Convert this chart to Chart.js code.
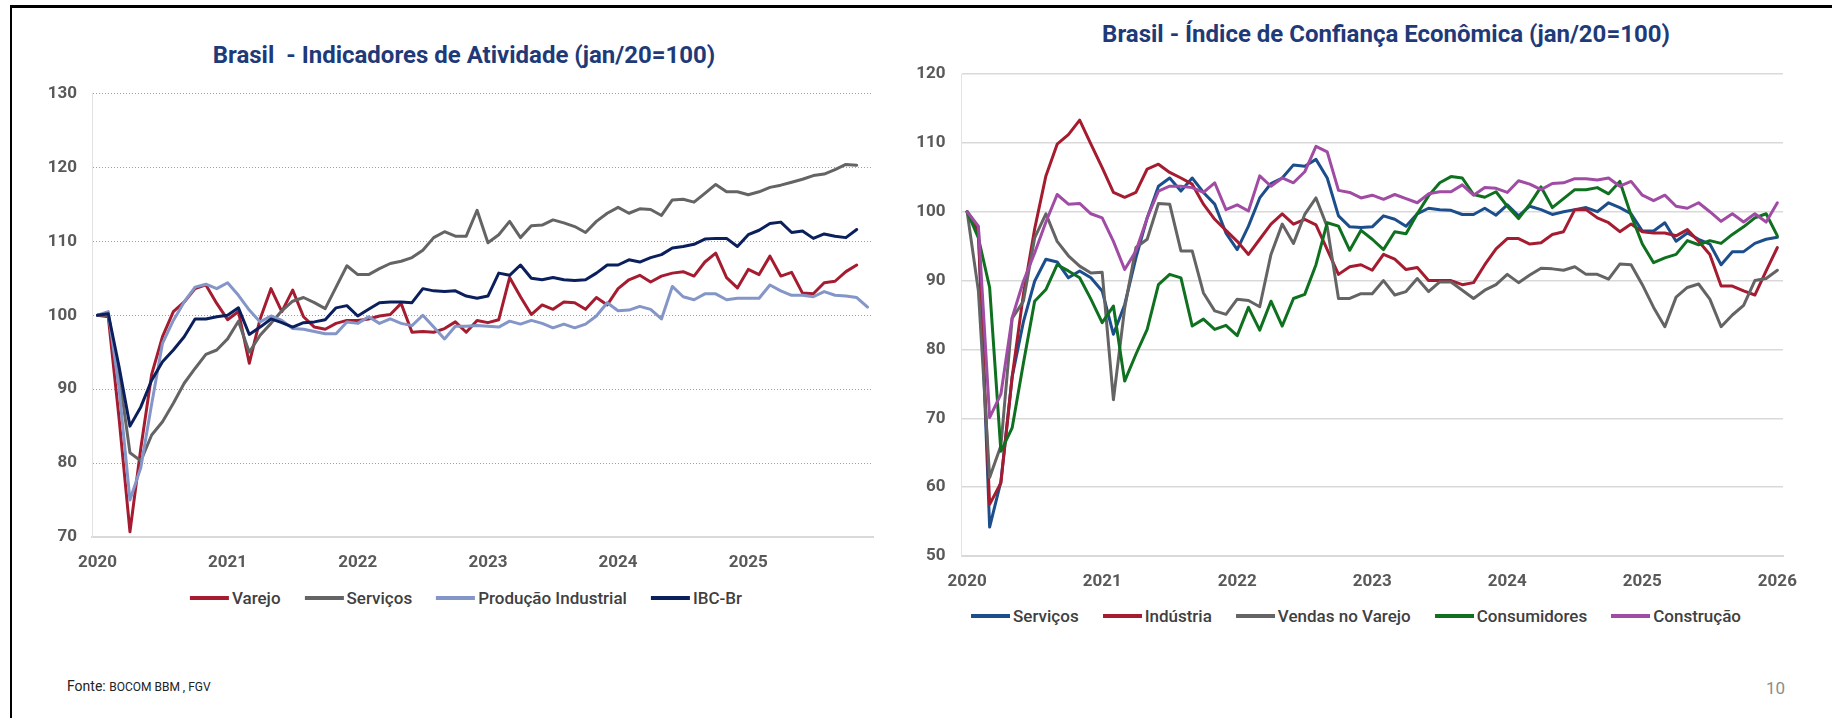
<!DOCTYPE html>
<html lang="pt-BR">
<head>
<meta charset="utf-8">
<title>Brasil - Atividade e Confiança</title>
<script src="https://cdn.jsdelivr.net/npm/chart.js@4.4.1/dist/chart.umd.min.js"></script>
<style>
  html, body { margin: 0; padding: 0; background: #fff; }
  body { width: 1832px; height: 718px; position: relative; overflow: hidden; font-family: Roboto, 'Open Sans', sans-serif; }
  .frame { position: absolute; left: 10px; top: 5px; width: 1840px; height: 730px; border-top: 3px solid #000; border-left: 2px solid #000; }
  .title { position: absolute; font-weight: bold; font-size: 24px; color: #1f3a78; white-space: nowrap; transform: translate(-50%, -50%); }
  .legend { position: absolute; display: flex; align-items: center; gap: 24px; transform: translate(-50%, -50%); font-size: 17px; color: #404040; font-weight: 500; white-space: nowrap; }
  .legend .item { display: flex; align-items: center; }
  .legend .swatch { width: 39px; height: 4px; margin-right: 3px; }
  .fonte { position: absolute; left: 67px; top: 678px; font-size: 14px; color: #222; }
  .fonte span { font-size: 12px; }
  .page { position: absolute; left: 1766px; top: 678px; font-size: 17px; color: #8c8c8c; }
  canvas { position: absolute; }
</style>
</head>
<body>
<div class="frame"></div>

<div class="title" style="left:464px; top:55px;">Brasil&nbsp; - Indicadores de Atividade (jan/20=100)</div>
<div class="title" style="left:1386px; top:34px;">Brasil - Índice de Confiança Econômica (jan/20=100)</div>

<canvas id="atividadeChart" width="880" height="520" style="left:20px; top:60px; width:880px; height:520px;"></canvas>
<canvas id="confiancaChart" width="925" height="560" style="left:900px; top:40px; width:925px; height:560px;"></canvas>

<div class="legend" id="atividade-legend" style="left:466px; top:598px;"></div>
<div class="legend" id="confianca-legend" style="left:1356px; top:616px;"></div>

<div class="fonte">Fonte: <span>BOCOM BBM , FGV</span></div>
<div class="page">10</div>

<script>
// categorias (meses)
const meses = ['jan', 'fev', 'mar', 'abr', 'mai', 'jun', 'jul', 'ago', 'set', 'out', 'nov', 'dez'];
const anosAtividade = ['2020', '2021', '2022', '2023', '2024', '2025'];
const anosConfianca = ['2020', '2021', '2022', '2023', '2024', '2025', '2026'];

// Indicadores de atividade (jan/20=100)
const varejo = [100, 99.8, 86, 70.7, 82, 92, 97.1, 100.5, 101.8, 103.6, 104.1, 101.6, 99.4, 100.5, 93.5, 99.5, 103.6, 100.5, 103.4, 99.8, 98.4, 98.1, 98.9, 99.3, 99.3, 99.5, 99.9, 100.1, 101.6, 97.7, 97.8, 97.7, 98.2, 99.1, 97.7, 99.3, 99.0, 99.4, 105.1, 102.5, 100.1, 101.4, 100.8, 101.8, 101.7, 100.8, 102.4, 101.4, 103.6, 104.8, 105.4, 104.5, 105.3, 105.7, 105.9, 105.3, 107.2, 108.4, 105.1, 103.7, 106.2, 105.5, 108.0, 105.3, 105.8, 103.0, 102.9, 104.4, 104.6, 105.9, 106.8];
const servicos = [100, 100, 92, 81.4, 80.3, 83.8, 85.6, 88.1, 90.8, 92.8, 94.7, 95.3, 96.8, 99.2, 95.0, 97.3, 98.9, 100.6, 101.9, 102.4, 101.7, 100.9, 103.8, 106.7, 105.5, 105.5, 106.3, 107.0, 107.3, 107.8, 108.8, 110.5, 111.3, 110.7, 110.7, 114.2, 109.8, 110.9, 112.7, 110.5, 112.1, 112.2, 112.9, 112.5, 112.0, 111.2, 112.7, 113.8, 114.6, 113.8, 114.4, 114.3, 113.5, 115.6, 115.7, 115.3, 116.5, 117.7, 116.7, 116.7, 116.3, 116.7, 117.3, 117.6, 118.0, 118.4, 118.9, 119.1, 119.7, 120.4, 120.3];
const producaoIndustrial = [100, 100.5, 90, 75.0, 79.4, 88, 96.2, 99.3, 101.8, 103.8, 104.2, 103.6, 104.4, 102.7, 100.7, 99.1, 99.9, 99.3, 98.2, 98.1, 97.8, 97.5, 97.5, 99.1, 98.9, 99.8, 98.9, 99.5, 98.9, 98.6, 100.0, 98.4, 96.8, 98.5, 98.5, 98.6, 98.5, 98.4, 99.2, 98.8, 99.3, 98.9, 98.3, 98.8, 98.3, 98.8, 99.9, 101.7, 100.6, 100.7, 101.2, 100.8, 99.5, 103.9, 102.5, 102.1, 102.9, 102.9, 102.1, 102.3, 102.3, 102.3, 104.1, 103.3, 102.7, 102.7, 102.5, 103.2, 102.7, 102.6, 102.4, 101.1];
const ibcBr = [100, 100.2, 93, 85.0, 87.6, 91.2, 93.7, 95.3, 97.1, 99.5, 99.5, 99.8, 100.0, 101.0, 97.4, 98.4, 99.5, 99.0, 98.4, 99.0, 99.1, 99.4, 101.0, 101.3, 99.9, 100.8, 101.7, 101.8, 101.8, 101.7, 103.6, 103.3, 103.2, 103.3, 102.6, 102.3, 102.6, 105.7, 105.4, 106.8, 105.0, 104.8, 105.1, 104.8, 104.7, 104.8, 105.7, 106.8, 106.8, 107.5, 107.2, 107.8, 108.2, 109.1, 109.3, 109.6, 110.3, 110.4, 110.4, 109.3, 110.9, 111.5, 112.4, 112.6, 111.2, 111.4, 110.4, 111.0, 110.7, 110.5, 111.6];

// Índice de confiança (jan/20=100)
const confServicos = [100, 97.7, 54.2, 60.8, 76, 84, 89.9, 93.1, 92.7, 90.4, 91.4, 90.4, 88.5, 82.2, 86.5, 93.3, 99.1, 103.7, 104.9, 103.0, 104.9, 102.8, 101.1, 96.9, 94.5, 97.9, 102.0, 104.1, 104.9, 106.8, 106.6, 107.6, 104.9, 99.4, 97.8, 97.7, 97.8, 99.4, 98.9, 97.9, 99.7, 100.5, 100.3, 100.2, 99.6, 99.6, 100.5, 99.5, 101.0, 99.4, 100.8, 100.3, 99.6, 100.0, 100.3, 100.6, 100.0, 101.3, 100.6, 99.7, 97.2, 97.2, 98.4, 95.7, 96.9, 96.0, 95.3, 92.3, 94.2, 94.2, 95.4, 96.0, 96.3];
const confIndustria = [100, 96.9, 57.5, 60.6, 76, 88, 97.5, 105.2, 109.8, 111.2, 113.3, 109.8, 106.4, 102.8, 102.1, 102.8, 106.2, 106.9, 105.7, 104.9, 104.0, 101.1, 98.9, 97.3, 95.7, 93.8, 96.0, 98.2, 99.7, 98.2, 98.9, 98.1, 94.5, 90.9, 92.0, 92.3, 91.5, 93.8, 93.1, 91.6, 91.9, 90.0, 90.0, 90.0, 89.4, 89.7, 92.3, 94.6, 96.1, 96.1, 95.3, 95.5, 96.7, 97.1, 100.3, 100.3, 99.1, 98.4, 97.1, 98.2, 97.1, 96.9, 96.9, 96.5, 97.4, 95.7, 93.8, 89.2, 89.2, 88.5, 87.9, 91.4, 94.8];
const confVarejo = [100, 88.5, 61.4, 66, 84.5, 87, 96.2, 99.7, 95.7, 93.6, 92.1, 91.1, 91.2, 72.7, 86, 94.8, 96.0, 101.2, 101.1, 94.3, 94.3, 88.2, 85.6, 85.1, 87.3, 87.1, 86.2, 93.8, 98.2, 95.4, 99.6, 102.0, 97.8, 87.4, 87.4, 88.1, 88.1, 90.0, 87.9, 88.4, 90.3, 88.4, 89.8, 89.8, 88.6, 87.4, 88.6, 89.4, 90.9, 89.7, 90.8, 91.8, 91.7, 91.5, 92.0, 90.9, 90.9, 90.2, 92.4, 92.3, 89.4, 86.1, 83.3, 87.6, 89.0, 89.5, 87.3, 83.3, 85.0, 86.4, 90.0, 90.3, 91.5];
const confConsumidores = [100, 96.2, 89.0, 65.2, 68.6, 78, 87.0, 88.7, 92.3, 91.4, 90.4, 87.3, 83.9, 86.3, 75.4, 79.3, 82.9, 89.4, 90.9, 90.4, 83.4, 84.4, 82.9, 83.5, 82.0, 86.1, 82.8, 87.0, 83.4, 87.4, 88.0, 92.3, 98.4, 97.9, 94.4, 97.3, 96.0, 94.5, 97.1, 96.8, 99.7, 102.3, 104.2, 105.1, 104.9, 102.5, 102.1, 102.9, 100.8, 99.0, 101.1, 103.6, 100.6, 101.9, 103.2, 103.2, 103.5, 102.6, 104.4, 99.5, 95.3, 92.6, 93.3, 93.8, 95.8, 95.2, 95.8, 95.4, 96.7, 97.8, 99.1, 99.7, 96.5];
const confConstrucao = [100, 97.9, 70.1, 73.5, 84.6, 89.9, 94, 98.5, 102.5, 101.1, 101.2, 99.7, 99.1, 95.7, 91.6, 94.3, 99.1, 103.0, 103.7, 103.7, 103.5, 102.8, 104.2, 100.3, 101.0, 100.1, 105.2, 103.7, 104.9, 104.2, 105.8, 109.5, 108.7, 103.1, 102.8, 102.0, 102.4, 101.8, 102.5, 101.9, 101.3, 102.6, 102.9, 102.9, 103.9, 102.4, 103.5, 103.4, 102.8, 104.5, 104.0, 103.2, 104.1, 104.2, 104.8, 104.8, 104.6, 104.9, 103.7, 104.4, 102.4, 101.6, 102.4, 100.8, 100.5, 101.3, 100.0, 98.6, 99.7, 98.5, 99.7, 98.5, 101.3];

Chart.defaults.font.family = 'Roboto, "Open Sans", sans-serif';

function buildLabels(anos, extra) {
    const labels = [];
    anos.forEach((ano) => {
        meses.forEach((m) => labels.push(m + '/' + ano));
    });
    return labels.slice(0, anos.length * 12 - extra);
}

function lineDataset(label, data, color, order) {
    return {
        label,
        data,
        borderColor: color,
        backgroundColor: color,
        borderWidth: 3,
        pointRadius: 0,
        tension: 0,
        fill: false,
        borderJoinStyle: 'round',
        borderCapStyle: 'round',
        order
    };
}

function yearTick(labels) {
    return function (value, index) {
        const lbl = labels[index];
        return lbl && lbl.startsWith('jan/') ? lbl.slice(4) : '';
    };
}

function buildLegend(id, datasets) {
    const el = document.getElementById(id);
    datasets.forEach((ds) => {
        const item = document.createElement('div');
        item.className = 'item';
        item.innerHTML = `<span class="swatch" style="background:${ds.borderColor}"></span>${ds.label}`;
        el.appendChild(item);
    });
}

// --- Indicadores de Atividade
const labelsAtividade = buildLabels(anosAtividade, 0);
const atividadeSets = [
    lineDataset('Varejo', varejo, '#a51c30', 4),
    lineDataset('Serviços', servicos, '#646464', 3),
    lineDataset('Produção Industrial', producaoIndustrial, '#8496c8', 2),
    lineDataset('IBC-Br', ibcBr, '#0b1f5c', 1)
];

new Chart(document.getElementById('atividadeChart').getContext('2d'), {
    type: 'line',
    data: { labels: labelsAtividade, datasets: atividadeSets },
    options: {
        responsive: false,
        animation: false,
        devicePixelRatio: 1,
        layout: { padding: { top: 33.5, right: 27, bottom: 0, left: 0 } },
        plugins: { legend: { display: false }, tooltip: { enabled: false } },
        scales: {
            x: {
                offset: true,
                grid: { display: false },
                border: { display: true, color: '#d9d9d9', width: 2 },
                ticks: {
                    autoSkip: false, maxRotation: 0, padding: 8,
                    color: '#595959', font: { size: 17, weight: 'bold' },
                    callback: yearTick(labelsAtividade)
                },
                afterFit: (scale) => { scale.height = 43; }
            },
            y: {
                min: 70, max: 130,
                ticks: { stepSize: 10, padding: 15, color: '#595959', font: { size: 17, weight: 'bold' } },
                grid: {
                    drawTicks: false,
                    lineWidth: 1,
                    color: (ctx) => (ctx.tick && ctx.tick.value === 70 ? 'rgba(0,0,0,0)' : '#a0a0a0')
                },
                border: { display: true, color: '#e3e3e3', width: 1, dash: [1, 2] },
                afterFit: (scale) => { scale.width = 72; }
            }
        }
    }
});
buildLegend('atividade-legend', atividadeSets);

// --- Índice de Confiança Econômica
const labelsConfianca = buildLabels(anosConfianca, 11);
const confiancaSets = [
    lineDataset('Serviços', confServicos, '#1c4e8c', 5),
    lineDataset('Indústria', confIndustria, '#a51c30', 4),
    lineDataset('Vendas no Varejo', confVarejo, '#646464', 3),
    lineDataset('Consumidores', confConsumidores, '#0f7020', 2),
    lineDataset('Construção', confConstrucao, '#a04ca4', 1)
];

new Chart(document.getElementById('confiancaChart').getContext('2d'), {
    type: 'line',
    data: { labels: labelsConfianca, datasets: confiancaSets },
    options: {
        responsive: false,
        animation: false,
        devicePixelRatio: 1,
        layout: { padding: { top: 34, right: 42, bottom: 0, left: 0 } },
        plugins: { legend: { display: false }, tooltip: { enabled: false } },
        scales: {
            x: {
                offset: true,
                grid: { display: false },
                border: { display: true, color: '#d9d9d9', width: 2 },
                ticks: {
                    autoSkip: false, maxRotation: 0, padding: 8,
                    color: '#595959', font: { size: 17, weight: 'bold' },
                    callback: yearTick(labelsConfianca)
                },
                afterFit: (scale) => { scale.height = 44; }
            },
            y: {
                min: 50, max: 120,
                ticks: { stepSize: 10, padding: 16, color: '#595959', font: { size: 17, weight: 'bold' } },
                grid: {
                    drawTicks: false,
                    lineWidth: 1.5,
                    color: (ctx) => (ctx.tick && ctx.tick.value === 50 ? 'rgba(0,0,0,0)' : '#d9d9d9')
                },
                border: { display: true, color: '#e3e3e3', width: 1 },
                afterFit: (scale) => { scale.width = 61.5; }
            }
        }
    }
});
buildLegend('confianca-legend', confiancaSets);
</script>
</body>
</html>
